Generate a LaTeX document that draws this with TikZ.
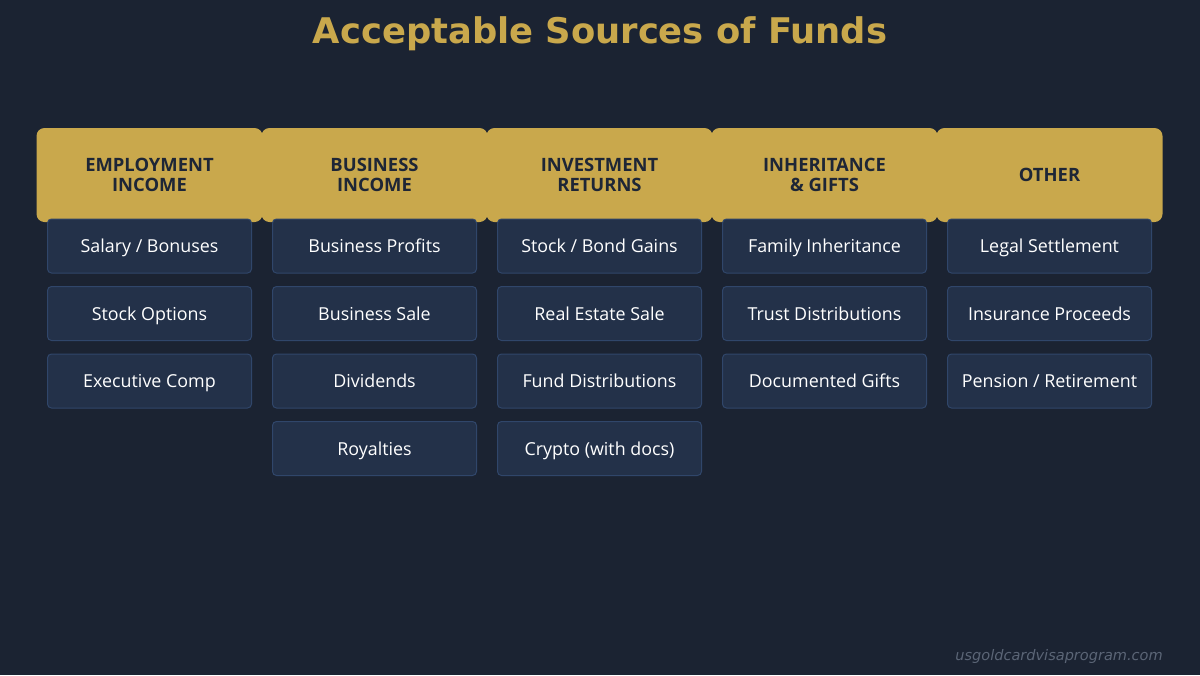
\documentclass[tikz,border=0pt]{standalone}
\usepackage{fontspec}
\setmainfont{Open Sans}
\newfontfamily\titlefont{DejaVu Sans}
\usepackage{tikz}
\usetikzlibrary{positioning}
\definecolor{mNavy}{HTML}{1B2332}
\definecolor{mGold}{HTML}{C9A84C}
\definecolor{mBox}{HTML}{233149}
\definecolor{mBoxLine}{HTML}{30466A}
\definecolor{mInk}{HTML}{1E2636}
\definecolor{mGrey}{HTML}{5B6576}
\tikzset{
  font=\fontsize{13.4}{15}\selectfont,
  node distance=10.125pt and 0pt
}

\begin{document}
\begin{tikzpicture}[
        x=0.75pt, y=-0.75pt,
        headn/.style={rectangle, fill=mGold, rounded corners=6pt, minimum width=169.5pt, minimum height=70.5pt, inner sep=0pt, outer sep=0pt, align=center, text=mInk, font=\fontsize{13.8}{15.5}\selectfont\bfseries},
        itemn/.style={rectangle, fill=mBox, draw=mBoxLine, line width=0.75pt, rounded corners=3pt, minimum width=153pt, minimum height=40.5pt, inner sep=0pt, outer sep=0pt, text height=1.1em, text depth=0.1em, text=white},
        titlen/.style={text=mGold, inner sep=0pt, font=\titlefont\fontsize{26.5}{30}\selectfont\bfseries},
        footn/.style={text=mGrey, inner sep=0pt, font=\titlefont\fontsize{10.9}{13}\selectfont\itshape}
        ]
        \fill[mNavy] (0,0) rectangle (1200,675);
        \useasboundingbox (0,0) rectangle (1200,675);

        \node[titlen] (title) at (600,34) {Acceptable Sources of Funds};

        % column heads
        \node[headn] (emp) at (149.5,175) {EMPLOYMENT\\ INCOME};
        \node[headn] (bus) at (374.5,175) {BUSINESS\\ INCOME};
        \node[headn] (inv) at (599.5,175) {INVESTMENT\\ RETURNS};
        \node[headn] (inh) at (824.5,175) {INHERITANCE\\ \& GIFTS};
        \node[headn] (oth) at (1049.5,175) {OTHER};

        \node[itemn, below=-2.25pt of emp] (emp1) {Salary / Bonuses};
        \node[itemn, below=of emp1] (emp2) {Stock Options};
        \node[itemn, below=of emp2] (emp3) {Executive Comp};

        \node[itemn, below=-2.25pt of bus] (bus1) {Business Profits};
        \node[itemn, below=of bus1] (bus2) {Business Sale};
        \node[itemn, below=of bus2] (bus3) {Dividends};
        \node[itemn, below=of bus3] (bus4) {Royalties};

        \node[itemn, below=-2.25pt of inv] (inv1) {Stock / Bond Gains};
        \node[itemn, below=of inv1] (inv2) {Real Estate Sale};
        \node[itemn, below=of inv2] (inv3) {Fund Distributions};
        \node[itemn, below=of inv3] (inv4) {Crypto (with docs)};

        \node[itemn, below=-2.25pt of inh] (inh1) {Family Inheritance};
        \node[itemn, below=of inh1] (inh2) {Trust Distributions};
        \node[itemn, below=of inh2] (inh3) {Documented Gifts};

        \node[itemn, below=-2.25pt of oth] (oth1) {Legal Settlement};
        \node[itemn, below=of oth1] (oth2) {Insurance Proceeds};
        \node[itemn, below=of oth2] (oth3) {Pension / Retirement};

        \node[footn, anchor=east] (foot) at (1163,656) {usgoldcardvisaprogram.com};
      \end{tikzpicture}
\end{document}
